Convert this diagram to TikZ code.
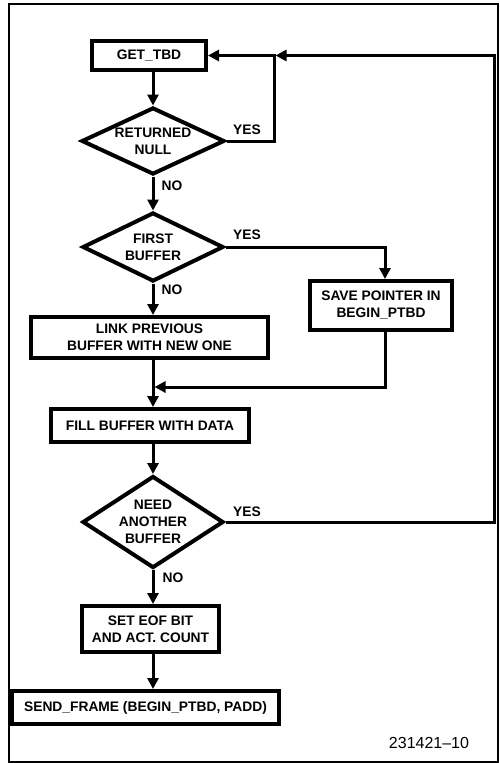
\documentclass[tikz,border=0pt]{standalone}
\usepackage{fontspec}
\setmainfont{Liberation Sans}
\usetikzlibrary{shapes.geometric,arrows.meta}
\begin{document}
\begin{tikzpicture}[x=1pt,y=-1pt,
  txt/.style={font=\bfseries\fontsize{13.8}{17}\selectfont},
  box/.style={txt,draw,line width=4pt,inner sep=0pt,align=center},
  dec/.style={txt,draw,diamond,line width=4pt,inner sep=0pt,align=center},
  conn/.style={line width=3pt},
  arr/.style={conn,-{Triangle[length=11pt,width=11pt]}},
  lab/.style={txt,inner sep=0pt}]
\useasboundingbox (0,0) rectangle (500,763);
\draw[line width=1.6pt] (9,4) rectangle (498,762);

\node[box,minimum width=114pt,minimum height=29pt] (get) at (149,55.5) {GET\_TBD};
\node[dec,aspect=2.1,minimum width=143pt,minimum height=67pt] (ret) at (153,141) {RETURNED\\NULL};
\node[dec,aspect=2,minimum width=141pt,minimum height=69pt] (first) at (153,247) {FIRST\\BUFFER};
\node[box,minimum width=142pt,minimum height=49pt] (save) at (381,305.5) {SAVE POINTER IN\\BEGIN\_PTBD};
\node[box,minimum width=237pt,minimum height=41pt] (link) at (149.5,337.5) {LINK PREVIOUS\\BUFFER WITH NEW ONE};
\node[box,minimum width=198pt,minimum height=33pt] (fill) at (150,425.5) {FILL BUFFER WITH DATA};
\node[dec,aspect=1.51,minimum width=141pt,minimum height=92pt] (need) at (153,522) {NEED\\ANOTHER\\BUFFER};
\node[box,minimum width=137pt,minimum height=46pt] (seteof) at (150.5,629) {SET EOF BIT\\AND ACT. COUNT};
\node[box,minimum width=267pt,minimum height=33pt] (send) at (145.5,707.5) {SEND\_FRAME (BEGIN\_PTBD, PADD)};

\node[lab] (yes1) at (247,130) {YES};
\node[lab] (no1) at (172,186) {NO};
\node[lab] (yes2) at (247,235) {YES};
\node[lab] (no2) at (172,290) {NO};
\node[lab] (yes3) at (247,512) {YES};
\node[lab] (no3) at (173,578) {NO};
\node[font=\fontsize{16}{18}\selectfont,inner sep=0pt] (fig) at (429,743) {231421\textendash10};

\coordinate (ax) at (153,0);
\coordinate (yc) at (274,55.5);
\coordinate (yc2) at (275.5,55.5);
\coordinate (rc) at (494,55.5);
\coordinate (sx) at (385,0);
\coordinate (jn) at (154.5,387);

\draw[arr] (get.south -| ax) -- (ret.north);
\draw[arr] (ret.south) -- (first.north);
\draw[arr] (first.south) -- (link.north -| ax);
\draw[arr] (link.south -| ax) -- (fill.north -| ax);
\draw[arr] (first.east) -| (save.north -| sx);
\draw[arr] (save.south -| sx) |- (jn);
\draw[arr] (fill.south -| ax) -- (need.north);
\draw[arr] (need.south) -- (seteof.north -| ax);
\draw[arr] (seteof.south -| ax) -- (send.north -| ax);
\draw[arr] (ret.east) -| (yc) -- (get.east);
\draw[arr] (need.east) -| (rc) -- (yc2);
\end{tikzpicture}
\end{document}
